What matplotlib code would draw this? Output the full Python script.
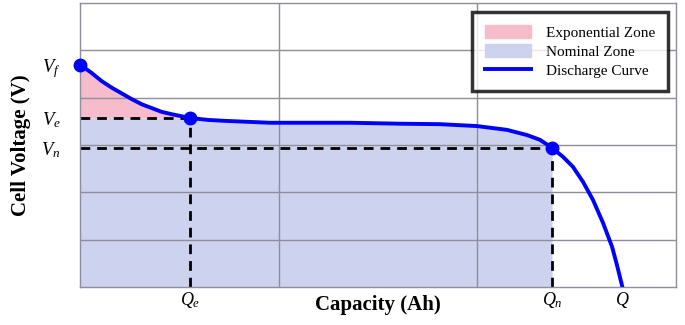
import numpy as np
import matplotlib.pyplot as plt
from matplotlib.patches import Patch
from matplotlib.lines import Line2D

plt.rcParams['font.family'] = ['Liberation Serif', 'DejaVu Serif']
plt.rcParams['mathtext.fontset'] = 'custom'
plt.rcParams['mathtext.it'] = 'Liberation Serif:italic'
plt.rcParams['mathtext.rm'] = 'Liberation Serif'

# ----- Data (grid units) -----
cap = [0.0, 0.059, 0.109, 0.160, 0.210, 0.260, 0.311, 0.361, 0.411, 0.462,
       0.554, 0.644, 0.730, 0.956, 1.36, 1.61, 1.812, 1.998, 2.149, 2.250,
       2.315, 2.376, 2.431, 2.481, 2.532, 2.582, 2.633, 2.678, 2.703, 2.73]
volt = [4.70, 4.52, 4.35, 4.21, 4.09, 3.97, 3.86, 3.78, 3.70, 3.65,
        3.57, 3.53, 3.51, 3.47, 3.47, 3.45, 3.44, 3.40, 3.32, 3.21,
        3.11, 2.94, 2.75, 2.54, 2.22, 1.84, 1.35, 0.85, 0.46, 0.0]

Q_e, V_e = 0.554, 3.57
Q_n, V_n = 2.376, 2.94
Q_full = 2.73
V_f = 4.70

x_ticks = [Q_e, Q_n, Q_full]
x_labels = [r'$Q_e$', r'$Q_n$', r'$Q$']
y_ticks = [V_n, V_e, V_f]
y_labels = [r'$V_n$', r'$V_e$', r'$V_f$']

cap = np.array(cap)
volt = np.array(volt)

# ----- Figure -----
fig = plt.figure(figsize=(6.85, 3.25), dpi=100)
ax = fig.add_axes([0.1168, 0.1169, 0.8701, 0.8739])

i_e = int(np.argmin(np.abs(cap - Q_e)))
i_n = int(np.argmin(np.abs(cap - Q_n)))

# zones
ax.fill_between(cap[:i_n + 1], 0, np.minimum(volt[:i_n + 1], V_e),
                color='#cdd2ee', lw=0)
ax.fill_between(cap[:i_e + 1], V_e, volt[:i_e + 1],
                color='#f7bccb', lw=0)

# dashed guides
dash = (0, (3.5, 2.5))
ax.plot([0, Q_e], [V_e, V_e], color='black', lw=2, ls=dash)
ax.plot([Q_e, Q_e], [0, V_e], color='black', lw=2, ls=dash)
ax.plot([0, Q_n], [V_n, V_n], color='black', lw=2, ls=dash)
ax.plot([Q_n, Q_n], [0, V_n], color='black', lw=2, ls=dash)

# discharge curve
ax.plot(cap, volt, color='#0000ff', lw=2.8, solid_joinstyle='round',
        solid_capstyle='round', zorder=5)
ax.plot([0, Q_e, Q_n], [V_f, V_e, V_n], 'o', color='#0000ff', ms=9,
        zorder=6, clip_on=False)

ax.set_xlim(0, 3)
ax.set_ylim(0, 6)

ax.set_xticks(x_ticks)
ax.set_xticklabels(x_labels, fontsize=13)
ax.set_yticks(y_ticks)
ax.set_yticklabels(y_labels, fontsize=13.5)
ax.set_xticks([1, 2], minor=True)
ax.set_yticks([1, 2, 3, 4, 5], minor=True)
ax.tick_params(which='both', length=0)
ax.tick_params(axis='x', pad=2)
ax.tick_params(axis='y', pad=14)
ax.grid(which='minor', color='#8e8e9c', lw=1)
for sp in ax.spines.values():
    sp.set_color('#8e8e9c')
    sp.set_linewidth(1)

ax.set_xlabel('Capacity (Ah)', fontsize=15, fontweight='bold')
ax.xaxis.set_label_coords(0.5, -0.028)
ax.set_ylabel('Cell Voltage (V)', fontsize=15, fontweight='bold')
ax.yaxis.set_label_coords(-0.083, 0.5)

handles = [Patch(color='#f7bccb'), Patch(color='#cdd2ee'),
           Line2D([], [], color='#0000ff', lw=2.8)]
leg = ax.legend(handles, ['Exponential Zone', 'Nominal Zone', 'Discharge Curve'],
                loc='upper right', bbox_to_anchor=(0.987, 0.968), borderaxespad=0,
                fontsize=11, frameon=True, fancybox=False, handlelength=3.0,
                handleheight=0.9, labelspacing=0.3, borderpad=0.85,
                handletextpad=1.0)
leg.get_frame().set_edgecolor('black')
leg.get_frame().set_linewidth(2.5)
leg.set_zorder(10)

fig.savefig('out.png', dpi=100)
